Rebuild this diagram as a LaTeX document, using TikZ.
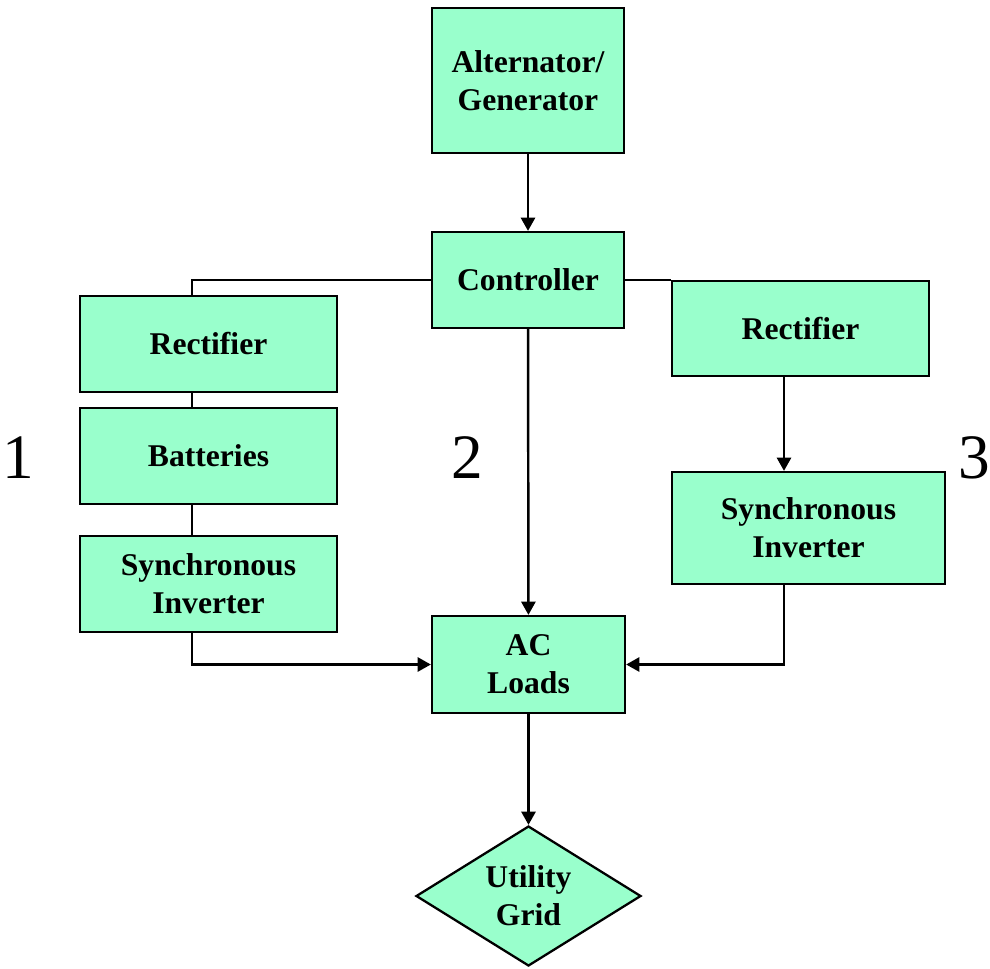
\documentclass[tikz,border=0pt]{standalone}
\usepackage{fontspec}
\setmainfont{Liberation Serif}
\usetikzlibrary{arrows.meta,shapes.geometric}
\definecolor{boxgreen}{RGB}{153,255,204}

\begin{document}
\begin{tikzpicture}[
    block/.style={draw=black, line width=1.3pt, fill=boxgreen, align=center, inner sep=0pt,
                  font=\bfseries\fontsize{18}{21.6}\selectfont},
    grid/.style={block, diamond, aspect=1.6},
    link/.style={line width=1.4pt},
    flow/.style={link, -{Triangle[length=7.5pt, width=8pt]}},
    num/.style={font=\fontsize{36}{40}\selectfont}
]
    \useasboundingbox (0,0) rectangle (19.8,-19.36);

    % Blocks
    \node[block, minimum width=3.84cm, minimum height=2.90cm] (alt)  at (10.56,-1.61)  {Alternator/\\Generator};
    \node[block, minimum width=3.84cm, minimum height=1.92cm] (ctrl) at (10.56,-5.60)  {Controller};
    \node[block, minimum width=5.14cm, minimum height=1.92cm] (rect1) at (4.17,-6.88)  {Rectifier};
    \node[block, minimum width=5.14cm, minimum height=1.92cm] (bat)  at (4.17,-9.12)   {Batteries};
    \node[block, minimum width=5.14cm, minimum height=1.92cm] (inv1) at (4.17,-11.68)  {Synchronous\\Inverter};
    \node[block, minimum width=5.14cm, minimum height=1.90cm] (rect3) at (16.01,-6.57) {Rectifier};
    \node[block, minimum width=5.46cm, minimum height=2.24cm] (inv3) at (16.17,-10.56) {Synchronous\\Inverter};
    \node[block, minimum width=3.86cm, minimum height=1.94cm] (ac)   at (10.57,-13.29) {AC\\Loads};
    \node[grid, minimum width=4.50cm, minimum height=2.80cm] (util) at (10.57,-17.92) {Utility\\Grid};

    % Path numbers
    \node[num] (n1) at (0.36,-9.16)  {1};
    \node[num] (n2) at (9.34,-9.16)  {2};
    \node[num] (n3) at (19.48,-9.16) {3};

    % Connectors
    \coordinate (l1) at ([xshift=-0.33cm]rect1.north);
    \coordinate (r3) at ([xshift=-0.33cm]rect3.south);
    \draw[flow] (alt) -- (ctrl);
    \draw[link] (ctrl.west) -| (l1);
    \draw[link] (l1 |- rect1.south) -- (l1 |- bat.north);
    \draw[link] (l1 |- bat.south) -- (l1 |- inv1.north);
    \draw[flow] (l1 |- inv1.south) |- (ac.west);
    \draw[flow] (ctrl) -- (ac);
    \draw[link] (ctrl.east) -- (ctrl.east -| rect3.west);
    \draw[flow] (r3) -- (r3 |- inv3.north);
    \draw[flow] (r3 |- inv3.south) |- (ac.east);
    \draw[flow] (ac) -- (util);
\end{tikzpicture}
\end{document}
